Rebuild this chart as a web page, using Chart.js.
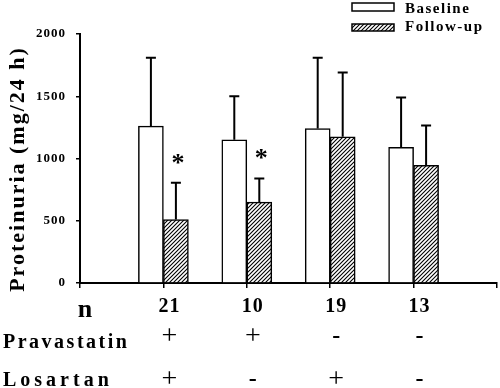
<!DOCTYPE html>
<html>
<head>
<meta charset="utf-8">
<script src="https://cdn.jsdelivr.net/npm/chart.js@4.4.1/dist/chart.umd.min.js"></script>
<style>
  html, body { margin: 0; padding: 0; background: #fff; }
</style>
</head>
<body>
<canvas id="chart" width="500" height="388"></canvas>
<script>
// group sizes (n); the empty slots pad the axis on both ends
const groups = ['', '21', '10', '19', '13', ''];
const pravastatin = ['', '+', '+', '-', '-', ''];
const losartan = ['', '+', '-', '+', '-', ''];

const baseline = [null, 1260, 1150, 1240, 1090, null];
const baselineSD = [null, 550, 350, 570, 400, null];
const followUp = [null, 510, 650, 1175, 945, null];
const followUpSD = [null, 295, 190, 515, 320, null];
const significant = [false, true, true, false, false, false];

const SERIF = '"Liberation Serif", "Times New Roman", serif';

function hatch() {
  const c = document.createElement('canvas');
  c.width = 4;
  c.height = 4;
  const g = c.getContext('2d');
  g.fillStyle = '#fff';
  g.fillRect(0, 0, 4, 4);
  g.strokeStyle = '#000';
  g.lineWidth = 1.1;
  g.beginPath();
  g.moveTo(0, 4); g.lineTo(4, 0);
  g.moveTo(-1, 1); g.lineTo(1, -1);
  g.moveTo(3, 5); g.lineTo(5, 3);
  g.stroke();
  return g.createPattern(c, 'repeat');
}

function text(ctx, str, x, y, font, align, spacing, baseline) {
  ctx.save();
  ctx.font = font;
  ctx.fillStyle = '#000';
  ctx.textAlign = align || 'left';
  ctx.textBaseline = baseline || 'alphabetic';
  ctx.letterSpacing = spacing || '0px';
  ctx.fillText(str, x, y);
  ctx.restore();
}

// upward-only error bars plus significance stars
const errorBars = {
  id: 'errorBars',
  afterDatasetsDraw(chart) {
    const ctx = chart.ctx;
    const y = chart.scales.y;
    chart.data.datasets.forEach((ds, di) => {
      chart.getDatasetMeta(di).data.forEach((bar, i) => {
        const v = ds.data[i];
        if (v == null) return;
        const top = y.getPixelForValue(v + ds.errors[i]);
        ctx.save();
        ctx.strokeStyle = '#000';
        ctx.lineWidth = 2;
        ctx.beginPath();
        ctx.moveTo(bar.x, bar.y);
        ctx.lineTo(bar.x, top);
        ctx.moveTo(bar.x - 5, top);
        ctx.lineTo(bar.x + 5, top);
        ctx.stroke();
        ctx.restore();
        if (di === 1 && significant[i]) {
          text(ctx, '*', bar.x + 2, top - 12, 'bold 26px ' + SERIF, 'center');
        }
      });
    });
  }
};

// legend, axis title and the treatment table under the axis
const annotations = {
  id: 'annotations',
  beforeDraw(chart) {
    chart.ctx.letterSpacing = '1px';
  },
  afterDraw(chart) {
    const ctx = chart.ctx;
    const x = chart.scales.x;

    // legend
    const boxes = [[3, 8, 13], [24, 7, 31]];
    chart.data.datasets.forEach((ds, i) => {
      const [by, bh, ty] = boxes[i];
      ctx.save();
      ctx.fillStyle = ds.backgroundColor;
      ctx.fillRect(352, by, 42, bh);
      ctx.strokeStyle = '#000';
      ctx.lineWidth = 1.5;
      ctx.strokeRect(352, by, 42, bh);
      ctx.restore();
      text(ctx, ds.label, 405, ty, 'bold 15px ' + SERIF, 'left', '1.5px');
    });

    // y title
    ctx.save();
    ctx.translate(18, 169);
    ctx.rotate(-Math.PI / 2);
    text(ctx, 'Proteinuria (mg/24 h)', 0, 0, 'bold 22px ' + SERIF, 'center', '2px', 'middle');
    ctx.restore();

    // rows under the axis
    text(ctx, 'n', 85, 317, 'bold 26px ' + SERIF, 'center');
    text(ctx, 'Pravastatin', 3, 348, 'bold 20px ' + SERIF, 'left', '2.5px');
    text(ctx, 'Losartan', 3, 386, 'bold 20px ' + SERIF, 'left', '4px');
    groups.forEach((g, i) => {
      if (!g) return;
      const px = x.getPixelForValue(i) + 6;
      text(ctx, g, px, 312, 'bold 20px ' + SERIF, 'center', '1px');
      [[pravastatin[i], 337], [losartan[i], 380]].forEach(([s, sy]) => {
        const f = s === '-' ? 'bold 24px ' : '28px ';
        text(ctx, s, px, sy, f + SERIF, 'center', '0px', 'middle');
      });
    });
  }
};

new Chart(document.getElementById('chart'), {
  type: 'bar',
  data: {
    labels: groups,
    datasets: [
      {
        label: 'Baseline',
        data: baseline,
        errors: baselineSD,
        backgroundColor: '#fff',
        borderColor: '#000',
        borderWidth: 1.5,
        barThickness: 25
      },
      {
        label: 'Follow-up',
        data: followUp,
        errors: followUpSD,
        backgroundColor: hatch(),
        borderColor: '#000',
        borderWidth: 1.5,
        barThickness: 25
      }
    ]
  },
  options: {
    responsive: false,
    animation: false,
    devicePixelRatio: 1,
    layout: { padding: { top: 34, right: 3, left: 0, bottom: 0 } },
    plugins: {
      legend: { display: false },
      tooltip: { enabled: false }
    },
    scales: {
      x: {
        offset: false,
        grid: {
          offset: false,
          drawOnChartArea: false,
          drawTicks: true,
          tickLength: 5,
          color: '#000',
          lineWidth: 1.5
        },
        border: { color: '#000', width: 2 },
        ticks: { display: false },
        afterFit(s) { s.height = 105; }
      },
      y: {
        min: 0,
        max: 2000,
        ticks: {
          stepSize: 500,
          color: '#000',
          padding: 10,
          font: { family: SERIF, weight: 'bold', size: 13 },
          callback: (v) => String(v)
        },
        grid: {
          drawOnChartArea: false,
          tickLength: 4,
          color: '#000',
          lineWidth: 1.5
        },
        border: { color: '#000', width: 2 },
        afterFit(s) { s.width = 80; }
      }
    }
  },
  plugins: [errorBars, annotations]
});
</script>
</body>
</html>
